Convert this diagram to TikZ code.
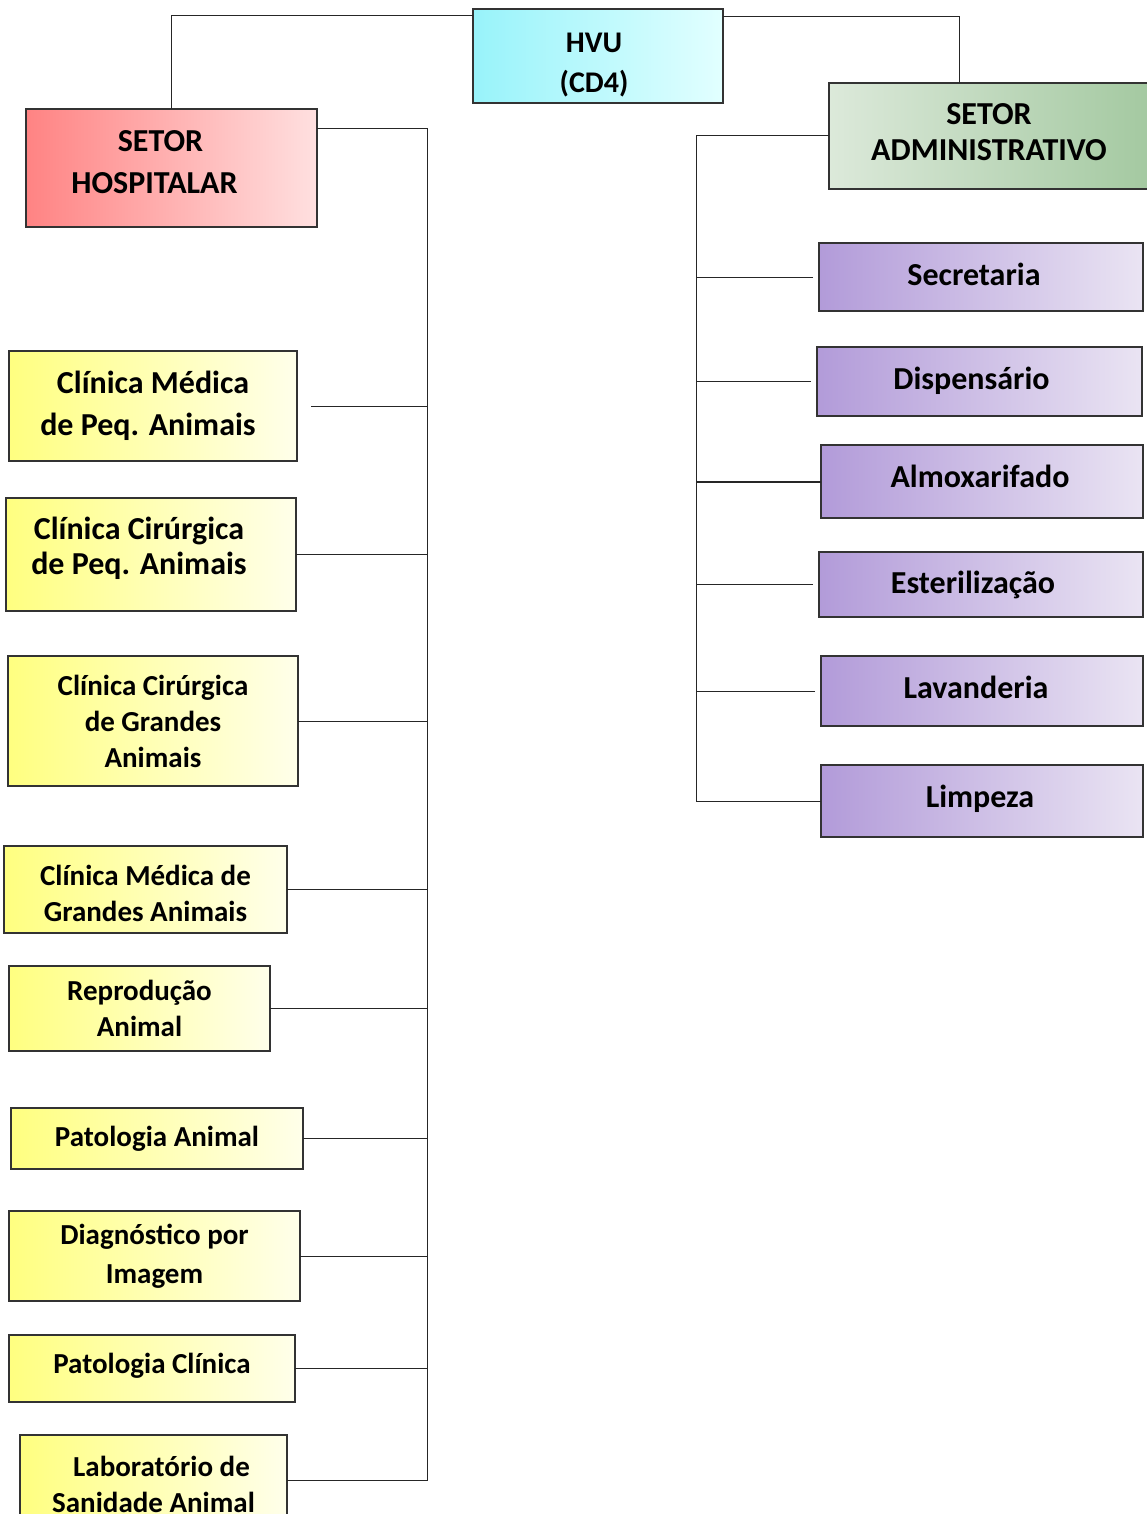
\documentclass[tikz,border=0pt]{standalone}
\usepackage{fontspec}
\setmainfont{Carlito}
\begin{document}
\begin{tikzpicture}[x=1pt,y=-1pt,
  box/.style={draw=black!80, line width=1.2pt, inner sep=0pt, outer sep=0pt, anchor=north west},
  lbl/.style={align=center, inner sep=0pt},
  fs/.style 2 args={font=\bfseries\fontsize{#1}{#2}\selectfont},
  ybox/.style={box, left color=yleft, right color=yright},
  pbox/.style={box, left color=pleft, right color=pright},
  conn/.style={draw=black!85, line width=1pt}
]
\definecolor{yleft}{HTML}{FFFF80}
\definecolor{yright}{HTML}{FFFFEA}
\definecolor{pleft}{HTML}{B29BD9}
\definecolor{pright}{HTML}{EAE4F3}
\definecolor{cleft}{HTML}{98F3FA}
\definecolor{cright}{HTML}{E2FFFF}
\definecolor{gleft}{HTML}{DCE9DA}
\definecolor{gright}{HTML}{A4C9A1}
\definecolor{rleft}{HTML}{FF8383}
\definecolor{rright}{HTML}{FFE0E0}
\useasboundingbox (0,0) rectangle (1147,1514);
\clip (0,0) rectangle (1147,1514);

% top level boxes
\node[box, left color=cleft, right color=cright, minimum width=250pt, minimum height=94pt] (hvu) at (473,9) {};
\node[box, left color=rleft, right color=rright, minimum width=291pt, minimum height=118pt] (hosp) at (26,109) {};
\node[box, left color=gleft, right color=gright, minimum width=320pt, minimum height=106pt] (adm) at (829,83) {};

% hospital sector boxes
\node[ybox, minimum width=288pt, minimum height=110pt] (c1) at (9,351) {};
\node[ybox, minimum width=290pt, minimum height=113pt] (c2) at (6,498) {};
\node[ybox, minimum width=290pt, minimum height=130pt] (c3) at (8,656) {};
\node[ybox, minimum width=283pt, minimum height=87pt] (c4) at (4,846) {};
\node[ybox, minimum width=261pt, minimum height=85pt] (c5) at (9,966) {};
\node[ybox, minimum width=292pt, minimum height=61pt] (c6) at (11,1108) {};
\node[ybox, minimum width=291pt, minimum height=90pt] (c7) at (9,1211) {};
\node[ybox, minimum width=286pt, minimum height=67pt] (c8) at (9,1335) {};
\node[ybox, minimum width=267pt, minimum height=90pt] (c9) at (20,1435) {};

% administrative sector boxes
\node[pbox, minimum width=324pt, minimum height=68pt] (p1) at (819,243) {};
\node[pbox, minimum width=325pt, minimum height=69pt] (p2) at (817,347) {};
\node[pbox, minimum width=322pt, minimum height=73pt] (p3) at (821,445) {};
\node[pbox, minimum width=324pt, minimum height=65pt] (p4) at (819,552) {};
\node[pbox, minimum width=322pt, minimum height=70pt] (p5) at (821,656) {};
\node[pbox, minimum width=322pt, minimum height=72pt] (p6) at (821,765) {};

% texts
\node[lbl, fs={30}{40}] (hvut) at ([shift={(-4,9)}]hvu.center) {HVU\\(CD4)};
\node[lbl, fs={32}{42}] (hospt) at ([shift={(0,-6)}]hosp.center) {SETOR\hspace*{22pt}\\HOSPITALAR\hspace*{34pt}};
\node[lbl, fs={32}{36}] (admt) at ([shift={(0,-4)}]adm.center) {SETOR\\ADMINISTRATIVO};
\node[lbl, fs={32}{42}] (c1t) at (c1.center) {Clínica Médica\\de Peq. Animais\hspace*{10pt}};
\node[lbl, fs={32}{35}] (c2t) at ([shift={(0,-6)}]c2.center) {Clínica Cirúrgica\hspace*{24pt}\\de Peq. Animais\hspace*{24pt}};
\node[lbl, fs={29}{36}] (c3t) at (c3.center) {Clínica Cirúrgica\\de Grandes\\Animais};
\node[lbl, fs={29}{36}] (c4t) at ([shift={(0,4)}]c4.center) {Clínica Médica de\\Grandes Animais};
\node[lbl, fs={29}{36}] (c5t) at (c5.center) {Reprodução\\Animal};
\node[lbl, fs={29}{36}] (c6t) at (c6.center) {Patologia Animal};
\node[lbl, fs={29}{39}] (c7t) at (c7.center) {Diagnóstico por\\Imagem};
\node[lbl, fs={29}{36}] (c8t) at ([shift={(0,-3)}]c8.center) {Patologia Clínica};
\node[lbl, fs={29}{36}] (c9t) at ([shift={(0,4)}]c9.center) {\hspace*{16pt}Laboratório de\\Sanidade Animal};
\node[lbl, fs={32}{36}] (p1t) at ([shift={(-7,-3)}]p1.center) {Secretaria};
\node[lbl, fs={32}{36}] (p2t) at ([shift={(-8,-1)}]p2.center) {Dispensário};
\node[lbl, fs={32}{36}] (p3t) at ([shift={(-2,-5)}]p3.center) {Almoxarifado};
\node[lbl, fs={32}{36}] (p4t) at ([shift={(-8,0)}]p4.center) {Esterilização};
\node[lbl, fs={32}{36}] (p5t) at ([shift={(-6,-4)}]p5.center) {Lavanderia};
\node[lbl, fs={32}{36}] (p6t) at ([shift={(-2,-2)}]p6.center) {Limpeza};

% trunk coordinates
\coordinate (ht) at (427,0);
\coordinate (at) at (696,0);

% connectors from HVU
\draw[conn] ([yshift=-7pt]hvu.north west) -| (hosp.north);
\draw[conn] ([yshift=-8pt]hvu.north east) -| ([xshift=-30pt]adm.north);

% hospital trunk
\draw[conn] ([yshift=-20pt]hosp.north east) -| (c9.east -| ht) -- (c9.east);
\draw[conn] ([xshift=14pt]c1.east) -- (c1.east -| ht);
\foreach \n in {c2,c3,c4,c5,c6,c7,c8}{
  \draw[conn] (\n.east) -- (\n.east -| ht);
}

% administrative trunk
\draw[conn] (adm.west) -| (p6.west -| at) -- (p6.west);
\foreach \n in {p1,p2,p4,p5}{
  \draw[conn] ([xshift=-6pt]\n.west) -- (\n.west -| at);
}
\draw[conn, line width=2pt] (p3.west) -- (p3.west -| at);
\end{tikzpicture}
\end{document}
